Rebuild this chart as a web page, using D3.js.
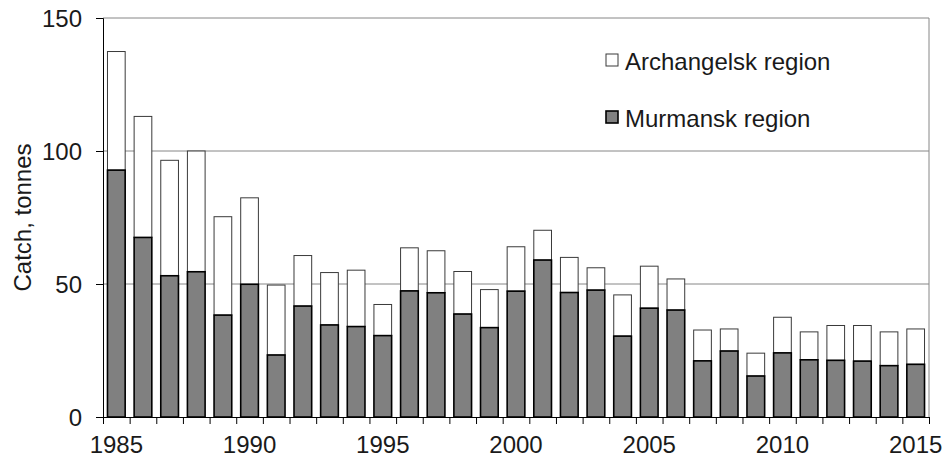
<!DOCTYPE html>
<html>
<head>
<meta charset="utf-8">
<script src="https://cdn.jsdelivr.net/npm/d3@7"></script>
<style>
  body { margin: 0; background: #fff; }
  svg { display: block; font-family: "Liberation Sans", Arial, sans-serif; }
</style>
</head>
<body>
<div id="chart"></div>
<script>
// Catch by region, tonnes
const years = d3.range(1985, 2016);
const murmansk = [92.8, 67.5, 53.1, 54.6, 38.3, 49.9, 23.3, 41.7, 34.6, 34.0,
                  30.6, 47.4, 46.7, 38.7, 33.6, 47.3, 59.0, 46.8, 47.7, 30.4,
                  40.9, 40.2, 21.1, 24.8, 15.4, 24.1, 21.5, 21.3, 21.0, 19.3, 19.8];
const totals   = [137.4, 113.0, 96.5, 100.0, 75.3, 82.4, 49.6, 60.7, 54.3, 55.2,
                  42.3, 63.6, 62.5, 54.7, 47.9, 64.0, 70.2, 60.0, 56.1, 45.9,
                  56.7, 51.9, 32.7, 33.1, 24.0, 37.5, 32.0, 34.4, 34.4, 32.0, 33.1];
const archangelsk = totals.map((t, i) => +(t - murmansk[i]).toFixed(1));
const yTicks = [0, 50, 100, 150];
const labelYears = [1985, 1990, 1995, 2000, 2005, 2010, 2015];

const width = 943, height = 459;
const margin = {top: 18, right: 14, bottom: 42, left: 103};
const w = width - margin.left - margin.right;
const h = height - margin.top - margin.bottom;
const textColor = "#1a1a1a";

const svg = d3.select("#chart")
    .append("svg")
    .attr("width", width)
    .attr("height", height);

const g = svg.append("g")
    .attr("transform", `translate(${margin.left},${margin.top})`);

const x = d3.scaleBand()
    .domain(years)
    .range([0, w])
    .paddingInner(0.336)
    .paddingOuter(0.168);

// boundaries between years, for the tick marks
const xEdge = d3.scaleLinear()
    .domain([years[0] - 0.5, years[years.length - 1] + 0.5])
    .range([0, w]);

const y = d3.scaleLinear().domain([0, 150]).range([h, 0]);

// gridlines
g.selectAll(".grid")
    .data(yTicks.filter(d => d > 0))
    .join("line")
    .attr("class", "grid")
    .attr("x1", 0)
    .attr("x2", w)
    .attr("y1", d => y(d))
    .attr("y2", d => y(d))
    .attr("stroke", "#868686")
    .attr("stroke-width", 1);

// right border of plot area
g.append("line")
    .attr("x1", w).attr("x2", w)
    .attr("y1", 0).attr("y2", h)
    .attr("stroke", "#868686");

// stacked bars
const stackData = years.map((yr, i) => ({year: yr, m: murmansk[i], a: archangelsk[i]}));

g.selectAll(".bar-a")
    .data(stackData)
    .join("rect")
    .attr("class", "bar-a")
    .attr("x", d => x(d.year))
    .attr("width", x.bandwidth())
    .attr("y", d => y(d.m + d.a))
    .attr("height", d => y(d.m) - y(d.m + d.a))
    .attr("fill", "#fff")
    .attr("stroke", "#3a3a3a")
    .attr("stroke-width", 1);

g.selectAll(".bar-m")
    .data(stackData)
    .join("rect")
    .attr("class", "bar-m")
    .attr("x", d => x(d.year))
    .attr("width", x.bandwidth())
    .attr("y", d => y(d.m))
    .attr("height", d => h - y(d.m))
    .attr("fill", "#808080")
    .attr("stroke", "#000")
    .attr("stroke-width", 1.6);

// y axis
const yAxis = g.append("g")
    .call(d3.axisLeft(y).tickValues(yTicks).tickSize(7).tickPadding(14));
yAxis.select(".domain").attr("stroke", "#000");
yAxis.selectAll("text").style("font-size", "24px").attr("fill", textColor).attr("dy", "0.36em");

// x axis: tick marks on the year boundaries
const xTicks = g.append("g")
    .attr("transform", `translate(0,${h})`)
    .call(d3.axisBottom(xEdge)
        .tickValues(d3.range(years[0] - 0.5, years[years.length - 1] + 1, 1))
        .tickSize(7)
        .tickFormat(""));
xTicks.select(".domain").attr("stroke", "#000");

// x labels centred on every fifth year
const xLabels = g.append("g")
    .attr("transform", `translate(0,${h})`)
    .call(d3.axisBottom(x).tickValues(labelYears).tickSize(0).tickPadding(19));
xLabels.select(".domain").remove();
xLabels.selectAll("text").style("font-size", "24px").attr("fill", textColor);

// y axis title
svg.append("text")
    .attr("transform", `translate(31,${margin.top + h / 2}) rotate(-90)`)
    .attr("text-anchor", "middle")
    .style("font-size", "24px")
    .attr("fill", textColor)
    .text("Catch, tonnes");

// legend
const legend = [
    {name: "Archangelsk region", fill: "#fff", stroke: "#3a3a3a", sw: 1},
    {name: "Murmansk region", fill: "#808080", stroke: "#000", sw: 1.6}
];
const lg = svg.append("g").attr("transform", "translate(606,54)");
legend.forEach((d, i) => {
    const row = lg.append("g").attr("transform", `translate(0,${i * 57})`);
    row.append("rect")
        .attr("width", 12).attr("height", 12)
        .attr("fill", d.fill).attr("stroke", d.stroke).attr("stroke-width", d.sw);
    row.append("text")
        .attr("x", 19).attr("y", 7).attr("dy", "0.36em")
        .style("font-size", "24px")
        .attr("fill", textColor)
        .text(d.name);
});
</script>
</body>
</html>
